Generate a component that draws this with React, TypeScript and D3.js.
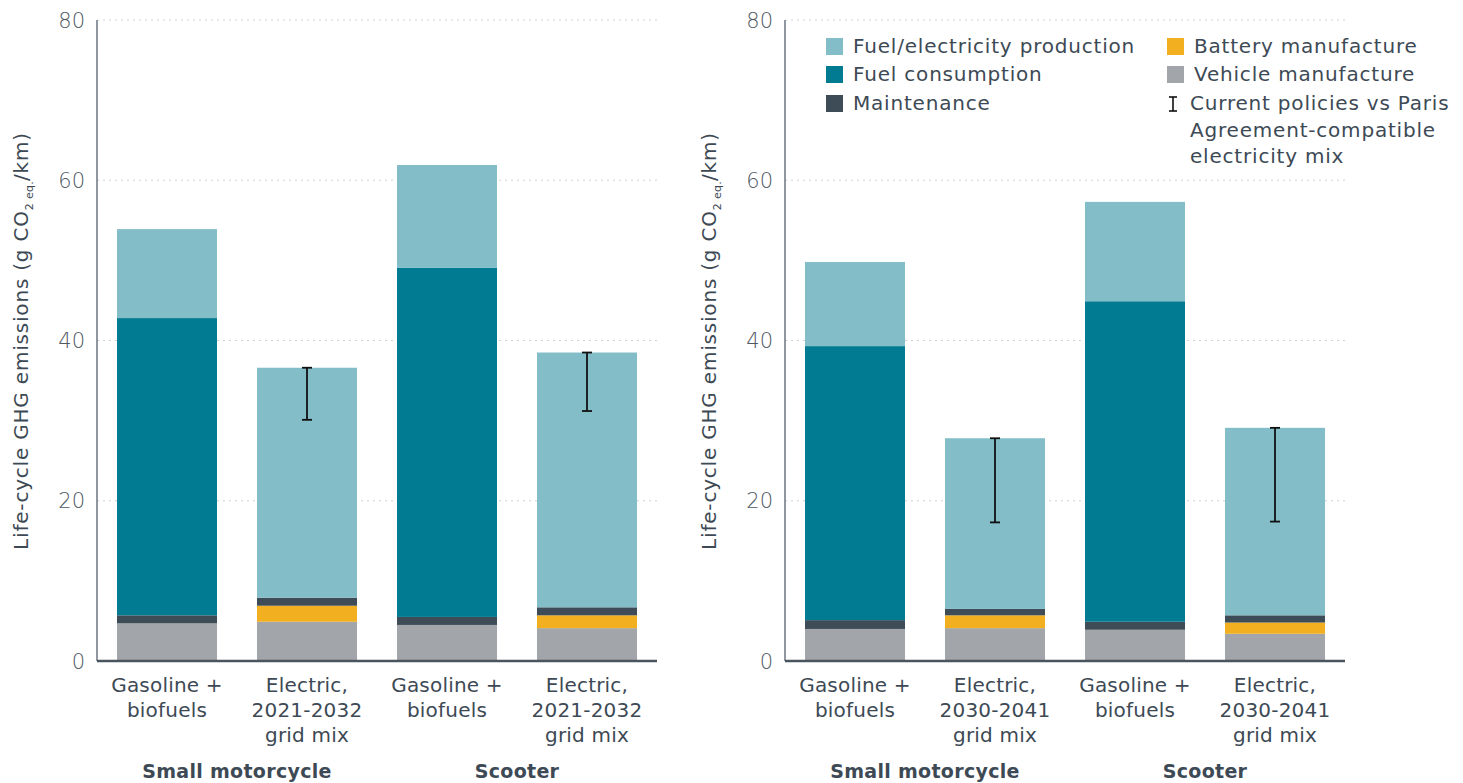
import React, { FC } from 'react';
import * as d3 from 'd3';

// chart values (g CO2 eq./km), one entry per bar
const keys = ['vehicle', 'battery', 'maintenance', 'fuelConsumption', 'fuelProduction'];

const leftCategories: string[][] = [
  ['Gasoline +', 'biofuels'],
  ['Electric,', '2021-2032', 'grid mix'],
  ['Gasoline +', 'biofuels'],
  ['Electric,', '2021-2032', 'grid mix'],
];
const rightCategories: string[][] = [
  ['Gasoline +', 'biofuels'],
  ['Electric,', '2030-2041', 'grid mix'],
  ['Gasoline +', 'biofuels'],
  ['Electric,', '2030-2041', 'grid mix'],
];
const groups = ['Small motorcycle', 'Scooter'];

const leftVehicle = [4.7, 4.9, 4.5, 4.1];
const leftBattery = [0, 2.0, 0, 1.6];
const leftMaintenance = [1.0, 1.0, 1.0, 1.0];
const leftFuelConsumption = [37.1, 0, 43.6, 0];
const leftFuelProduction = [11.1, 28.7, 12.8, 31.8];
const leftErrLow = [null, 30.1, null, 31.2];

const rightVehicle = [4.0, 4.1, 3.9, 3.4];
const rightBattery = [0, 1.6, 0, 1.4];
const rightMaintenance = [1.1, 0.8, 1.0, 0.9];
const rightFuelConsumption = [34.2, 0, 40.0, 0];
const rightFuelProduction = [10.5, 21.3, 12.4, 23.4];
const rightErrLow = [null, 17.3, null, 17.4];

const yTicks = [0, 20, 40, 60, 80];

const colors: { [k: string]: string } = {
  fuelProduction: '#82BDC8',
  fuelConsumption: '#007B91',
  maintenance: '#3E4C57',
  battery: '#F2AF1F',
  vehicle: '#A2A6AA',
};

const legendItems = [
  { key: 'fuelProduction', label: 'Fuel/electricity production', col: 0, row: 0 },
  { key: 'fuelConsumption', label: 'Fuel consumption', col: 0, row: 1 },
  { key: 'maintenance', label: 'Maintenance', col: 0, row: 2 },
  { key: 'battery', label: 'Battery manufacture', col: 1, row: 0 },
  { key: 'vehicle', label: 'Vehicle manufacture', col: 1, row: 1 },
];
const errLegend = ['Current policies vs Paris', 'Agreement-compatible', 'electricity mix'];

type Row = { [k: string]: number };

const buildRows = (arrs: number[][]): Row[] =>
  arrs[0].map((_, i) => {
    const r: Row = {};
    keys.forEach((k, j) => (r[k] = arrs[j][i]));
    return r;
  });

const panels = [
  {
    x0: 97,
    cats: leftCategories,
    rows: buildRows([leftVehicle, leftBattery, leftMaintenance, leftFuelConsumption, leftFuelProduction]),
    errLow: leftErrLow,
  },
  {
    x0: 785,
    cats: rightCategories,
    rows: buildRows([rightVehicle, rightBattery, rightMaintenance, rightFuelConsumption, rightFuelProduction]),
    errLow: rightErrLow,
  },
];

const FONT = "'DejaVu Sans', sans-serif";
const TEXT = '#3D4A55';
const plotW = 560;
const y = d3.scaleLinear().domain([0, 80]).range([661, 20]);

const Panel: FC<{ p: (typeof panels)[number] }> = ({ p }) => {
  const x = d3
    .scaleBand<number>()
    .domain(d3.range(p.rows.length))
    .range([p.x0, p.x0 + plotW])
    .paddingInner(2 / 7)
    .paddingOuter(1 / 7);
  const series = d3.stack<Row>().keys(keys)(p.rows);
  const totals = p.rows.map((r) => d3.sum(keys, (k) => r[k]));
  const labelX = p.x0 - 69;
  const labelY = 341;

  return (
    <g>
      {yTicks.slice(1).map((t) => (
        <line
          key={t}
          x1={p.x0}
          x2={p.x0 + plotW}
          y1={y(t)}
          y2={y(t)}
          stroke="#cfd3d6"
          strokeWidth={1}
          strokeDasharray="2,4"
        />
      ))}
      {yTicks.map((t) => (
        <text
          key={t}
          x={p.x0 - 12}
          y={y(t) + 7.5}
          textAnchor="end"
          fontSize={21}
          fontWeight={200}
          fontFamily={FONT}
          fill="#4F5A64"
        >
          {t}
        </text>
      ))}
      <text
        transform={`translate(${labelX},${labelY}) rotate(-90)`}
        textAnchor="middle"
        fontSize={20}
        letterSpacing={0.8}
        fontFamily={FONT}
        fill={TEXT}
      >
        Life-cycle GHG emissions (g CO
        <tspan fontSize={11} dy={5} letterSpacing={0.3}>2 eq.</tspan>
        <tspan dy={-5}>/km)</tspan>
      </text>
      {series.map((s) => (
        <g key={s.key} fill={colors[s.key]}>
          {s.map((d, i) =>
            d[1] - d[0] > 0 ? (
              <rect key={i} x={x(i)} width={x.bandwidth()} y={y(d[1])} height={y(d[0]) - y(d[1])} />
            ) : null
          )}
        </g>
      ))}
      {p.errLow.map((lo, i) => {
        if (lo == null) return null;
        const cx = (x(i) as number) + x.bandwidth() / 2;
        return (
          <g key={i} stroke="#111" strokeWidth={1.8}>
            <line x1={cx} x2={cx} y1={y(totals[i])} y2={y(lo)} />
            <line x1={cx - 5} x2={cx + 5} y1={y(totals[i])} y2={y(totals[i])} />
            <line x1={cx - 5} x2={cx + 5} y1={y(lo)} y2={y(lo)} />
          </g>
        );
      })}
      <line x1={p.x0} x2={p.x0} y1={20} y2={661} stroke="#6B7580" strokeWidth={1.5} />
      <line x1={p.x0} x2={p.x0 + plotW} y1={661} y2={661} stroke="#4A5560" strokeWidth={2.5} />
      {p.cats.map((lines, i) => (
        <text
          key={i}
          x={(x(i) as number) + x.bandwidth() / 2}
          textAnchor="middle"
          fontSize={20}
          letterSpacing={0.2}
          fontFamily={FONT}
          fill={TEXT}
        >
          {lines.map((l, j) => (
            <tspan key={j} x={(x(i) as number) + x.bandwidth() / 2} y={692 + j * 25}>
              {l}
            </tspan>
          ))}
        </text>
      ))}
      {groups.map((g, gi) => (
        <text
          key={g}
          x={(x(gi * 2 + 1) as number) - (x.step() - x.bandwidth()) / 2}
          y={778}
          textAnchor="middle"
          fontSize={19}
          letterSpacing={0.3}
          fontWeight={700}
          fontFamily={FONT}
          fill={TEXT}
        >
          {g}
        </text>
      ))}
    </g>
  );
};

const Legend: FC = () => {
  const colX = [826, 1167];
  const rowY = [46, 74, 103];
  return (
    <g fontFamily={FONT} fontSize={20} letterSpacing={0.8} fill={TEXT}>
      {legendItems.map((it) => (
        <g key={it.key}>
          <rect x={colX[it.col]} y={rowY[it.row] - 8} width={17} height={17} fill={colors[it.key]} />
          <text x={colX[it.col] + 27} y={rowY[it.row] + 7}>
            {it.label}
          </text>
        </g>
      ))}
      <g stroke="#111" strokeWidth={1.6}>
        <line x1={1173} x2={1173} y1={97} y2={111} />
        <line x1={1169} x2={1177} y1={97} y2={97} />
        <line x1={1169} x2={1177} y1={111} y2={111} />
      </g>
      {errLegend.map((l, j) => (
        <text key={j} x={1190} y={110 + j * 26.5}>
          {l}
        </text>
      ))}
    </g>
  );
};

const App: FC = () => (
  <svg
    width={1463}
    height={783}
    style={{ position: 'absolute', left: 0, top: 0, background: '#fff' }}
  >
    {panels.map((p, i) => (
      <Panel key={i} p={p} />
    ))}
    <Legend />
  </svg>
);

export default App;
